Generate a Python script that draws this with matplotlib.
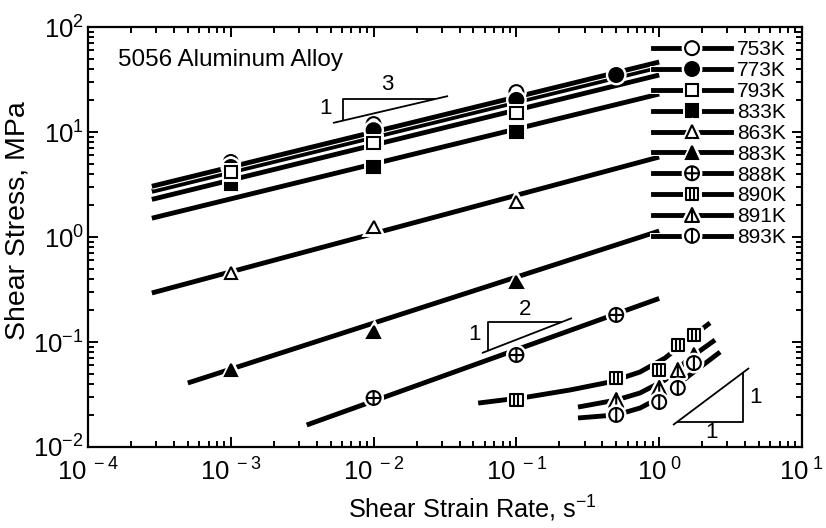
import numpy as np
import matplotlib
matplotlib.use('Agg')
import matplotlib.pyplot as plt
from matplotlib.path import Path
import matplotlib.patheffects as pe
from matplotlib.lines import Line2D
from matplotlib.ticker import FixedLocator, LogLocator, NullFormatter

plt.rcParams['font.family'] = ['Liberation Sans', 'DejaVu Sans']
plt.rcParams['mathtext.fontset'] = 'custom'
plt.rcParams['mathtext.rm'] = 'Liberation Sans'
plt.rcParams['mathtext.it'] = 'Liberation Sans:italic'
plt.rcParams['mathtext.bf'] = 'Liberation Sans:bold'

# ---------------- data ----------------
temps = ['753K', '773K', '793K', '833K', '863K', '883K', '888K', '890K', '891K', '893K']

x_753 = [1e-3, 1e-2, 1e-1];        y_753 = [5.18, 11.9, 24.0]
x_773 = [1e-3, 1e-2, 1e-1, 0.5];   y_773 = [4.64, 10.4, 20.2, 34.9]
x_793 = [1e-3, 1e-2, 1e-1];        y_793 = [4.16, 7.86, 15.2]
x_833 = [1e-3, 1e-2, 1e-1];        y_833 = [3.2, 4.64, 10.0]
x_863 = [1e-3, 1e-2, 1e-1];        y_863 = [0.454, 1.25, 2.15]
x_883 = [1e-3, 1e-2, 1e-1];        y_883 = [0.054, 0.124, 0.373]
x_888 = [1e-2, 1e-1, 0.5];         y_888 = [0.0293, 0.0752, 0.181]
x_890 = [0.1, 0.5, 1.0, 1.35, 1.75]; y_890 = [0.028, 0.0454, 0.054, 0.0936, 0.117]
x_891 = [0.5, 1.0, 1.35, 1.75];    y_891 = [0.028, 0.0365, 0.054, 0.075]
x_893 = [0.5, 1.0, 1.35, 1.75];    y_893 = [0.0202, 0.0268, 0.0365, 0.063]

# fitted lines (read end points)
fit_x_753 = [2.8e-4, 1.0]; fit_y_753 = [3.04, 46.4]
fit_x_773 = [2.8e-4, 1.0]; fit_y_773 = [2.72, 41.6]
fit_x_793 = [2.8e-4, 1.0]; fit_y_793 = [2.28, 34.9]
fit_x_833 = [2.8e-4, 1.0]; fit_y_833 = [1.51, 23.0]
fit_x_863 = [2.8e-4, 1.0]; fit_y_863 = [0.293, 5.78]
fit_x_883 = [5.0e-4, 1.0]; fit_y_883 = [0.0407, 1.14]
fit_x_888 = [3.4e-3, 1.0]; fit_y_888 = [0.0162, 0.26]
# fitted curves (read points along the drawn curves)
fit_x_890 = [0.054, 0.119, 0.237, 0.452, 0.734, 1.10, 1.64, 2.27]
fit_y_890 = [0.0262, 0.0299, 0.0349, 0.0416, 0.0518, 0.0704, 0.109, 0.152]
fit_x_891 = [0.27, 0.5, 0.734, 1.10, 1.64, 2.46]
fit_y_891 = [0.024, 0.028, 0.0327, 0.0435, 0.0704, 0.1045]
fit_x_893 = [0.27, 0.5, 0.734, 1.10, 1.64, 2.67]
fit_y_893 = [0.0189, 0.0202, 0.0235, 0.0313, 0.0485, 0.0803]

# ---------------- markers ----------------
def compound(*parts):
    verts, codes = [], []
    for v, c in parts:
        verts += v
        codes += c
    return Path(verts, codes)

circ = Path.unit_circle()
circ_part = (list(map(tuple, circ.vertices)), list(circ.codes))
sq_part = ([(-1, -1), (1, -1), (1, 1), (-1, 1), (-1, -1)],
           [Path.MOVETO, Path.LINETO, Path.LINETO, Path.LINETO, Path.CLOSEPOLY])
tri_part = ([(0, 1), (-1, -1), (1, -1), (0, 1)],
            [Path.MOVETO, Path.LINETO, Path.LINETO, Path.CLOSEPOLY])
def seg(a, b):
    return ([a, b], [Path.MOVETO, Path.LINETO])

m_oplus = compound(circ_part, seg((-1, 0), (1, 0)), seg((0, -1), (0, 1)))
m_sqbar = compound(sq_part, seg((-0.33, -1), (-0.33, 1)), seg((0.33, -1), (0.33, 1)))
m_tribar = compound(tri_part, seg((0, 1), (0, -1)))
m_circbar = compound(circ_part, seg((0, 1), (0, -1)))

styles = {
    '753K': ('o', 'white'), '773K': ('o', 'black'),
    '793K': ('s', 'white'), '833K': ('s', 'black'),
    '863K': ('^', 'white'), '883K': ('^', 'black'),
    '888K': (m_oplus, 'white'), '890K': (m_sqbar, 'white'),
    '891K': (m_tribar, 'white'), '893K': (m_circbar, 'white'),
}
sizes = {'753K': 10, '773K': 10, '793K': 9, '833K': 9, '863K': 9, '883K': 9,
         '888K': 10, '890K': 9, '891K': 10, '893K': 10}

data = {
    '753K': (x_753, y_753, fit_x_753, fit_y_753),
    '773K': (x_773, y_773, fit_x_773, fit_y_773),
    '793K': (x_793, y_793, fit_x_793, fit_y_793),
    '833K': (x_833, y_833, fit_x_833, fit_y_833),
    '863K': (x_863, y_863, fit_x_863, fit_y_863),
    '883K': (x_883, y_883, fit_x_883, fit_y_883),
    '888K': (x_888, y_888, fit_x_888, fit_y_888),
    '890K': (x_890, y_890, fit_x_890, fit_y_890),
    '891K': (x_891, y_891, fit_x_891, fit_y_891),
    '893K': (x_893, y_893, fit_x_893, fit_y_893),
}

LW = 3.5
fig = plt.figure(figsize=(8.26, 5.28), dpi=100)
ax = fig.add_axes([88/826, 1 - 447/528, (802 - 88)/826, (447 - 27)/528])
ax.set_xscale('log'); ax.set_yscale('log')
ax.set_xlim(1e-4, 10); ax.set_ylim(1e-2, 1e2)

halo_line = [pe.withStroke(linewidth=LW + 1.6, foreground='white')]
halo_mark = [pe.withStroke(linewidth=5, foreground='white')]

for t in ['833K', '793K', '773K', '753K', '863K', '883K', '888K', '890K', '891K', '893K']:
    xs, ys, fx, fy = data[t]
    ax.plot(fx, fy, color='black', lw=LW, solid_capstyle='butt', zorder=2,
            path_effects=halo_line)

for t in ['753K', '773K', '833K', '793K', '863K', '883K', '888K', '890K', '891K', '893K']:
    xs, ys, fx, fy = data[t]
    m, fc = styles[t]
    ax.plot(xs, ys, ls='none', marker=m, ms=sizes[t], mfc=fc, mec='black', mew=1.5,
            zorder=3, path_effects=halo_mark)

# slope triangles
tk = dict(color='black', lw=1.3, zorder=4, solid_capstyle='butt')
ax.plot([5.2e-3, 3.32e-2], [12.2, 22.0], **tk)
ax.plot([6.1e-3, 6.1e-3, 2.7e-2], [12.8, 20.6, 20.6], **tk)
ax.text(4.6e-3, 16.9, '1', fontsize=16, ha='center', va='center')
ax.text(1.24e-2, 28.5, '3', fontsize=16, ha='center', va='center')

ax.plot([0.0574, 0.245], [0.0785, 0.169], **tk)
ax.plot([0.0632, 0.0632, 0.208], [0.0826, 0.155, 0.155], **tk)
ax.text(0.0505, 0.117, '1', fontsize=16, ha='center', va='center')
ax.text(0.115, 0.205, '2', fontsize=16, ha='center', va='center')

ax.plot([1.25, 4.26], [0.0162, 0.0565], **tk)
ax.plot([1.33, 3.87, 3.87], [0.0173, 0.0173, 0.0514], **tk)
ax.text(4.75, 0.0299, '1', fontsize=16, ha='center', va='center')
ax.text(2.34, 0.0137, '1', fontsize=16, ha='center', va='center')

ax.text(0.042, 0.921, '5056 Aluminum Alloy', transform=ax.transAxes,
        fontsize=17.5, ha='left', va='center')

# axes styling
for s in ax.spines.values():
    s.set_linewidth(1.6)
ax.xaxis.set_major_locator(FixedLocator([1e-4, 1e-3, 1e-2, 1e-1, 1, 10]))
ax.yaxis.set_major_locator(FixedLocator([1e-2, 1e-1, 1, 10, 100]))
ax.xaxis.set_minor_locator(LogLocator(base=10, subs=np.arange(2, 10), numticks=20))
ax.yaxis.set_minor_locator(LogLocator(base=10, subs=np.arange(2, 10), numticks=20))
ax.xaxis.set_minor_formatter(NullFormatter())
ax.yaxis.set_minor_formatter(NullFormatter())
xexp = [-4, -3, -2, -1, 0, 1]
yexp = [-2, -1, 0, 1, 2]
ax.set_xticklabels([r'$\mathregular{10^{\ %d}}$' % e for e in xexp])
ax.set_yticklabels([r'$\mathregular{10^{%d}}$' % e for e in yexp])
ax.tick_params(which='both', direction='in', top=True, right=True, width=1.4)
ax.tick_params(which='major', length=7, labelsize=18.5)
ax.tick_params(which='minor', length=4)
ax.tick_params(axis='x', which='major', pad=8)
ax.tick_params(axis='y', which='major', pad=3)

ax.set_xlabel(r'Shear Strain Rate, s$^{\mathregular{-1}}$', fontsize=18.2, labelpad=6)
ax.set_ylabel('Shear Stress, MPa', fontsize=20.5, labelpad=2)
ax.xaxis.label.set_x(0.538)
ax.yaxis.label.set_y(0.54)

# legend
handles = []
for t in temps:
    m, fc = styles[t]
    handles.append(Line2D([], [], color='black', lw=LW, marker=m, ms=sizes[t],
                          mfc=fc, mec='black', mew=1.5,
                          path_effects=[pe.withStroke(linewidth=5, foreground='white')]))
leg = ax.legend(handles, temps, loc='upper left', bbox_to_anchor=(0.792, 0.968),
                frameon=False, fontsize=15, labelspacing=0.089, handlelength=3.7,
                handletextpad=0.3, borderpad=0, borderaxespad=0)

fig.savefig('out.png', dpi=100)
